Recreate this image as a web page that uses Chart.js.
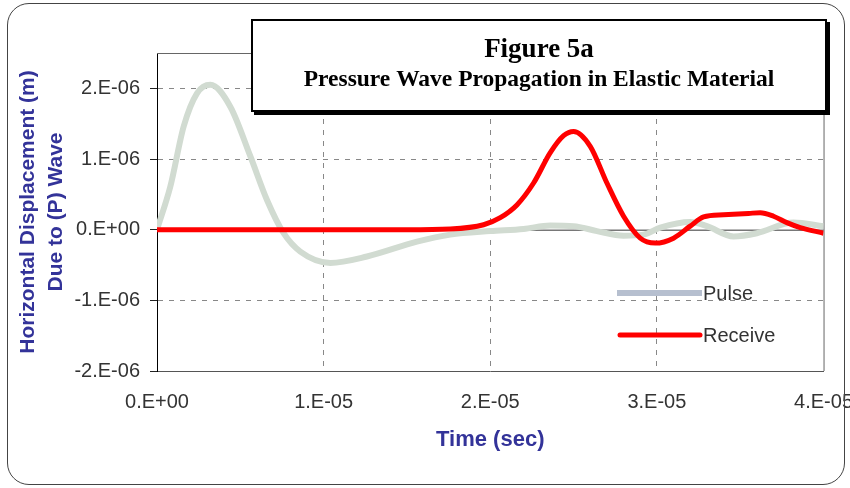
<!DOCTYPE html>
<html>
<head>
<meta charset="utf-8">
<script src="https://cdn.jsdelivr.net/npm/chart.js@4.4.0/dist/chart.umd.min.js"></script>
<style>
  html, body { margin: 0; padding: 0; background: #fff; overflow: hidden; }
  #wrap { position: absolute; left: 0; top: 0; width: 864px; height: 488px; }
  #frame { position: absolute; left: 7px; top: 3px; width: 836px; height: 480px;
           border: 1.5px solid #444; border-radius: 22px; pointer-events: none; }
</style>
</head>
<body>
<div id="wrap"><canvas id="line"></canvas></div>
<div id="frame"></div>
<script>
// time in seconds, displacement in metres
var pulseTime = [0, 0.8e-6, 1.6e-6, 2.4e-6, 3.2e-6, 4.4e-6, 5.6e-6, 6.6e-6, 7.6e-6, 8.6e-6, 10.4e-6,
  12.6e-6, 15.6e-6, 17.6e-6, 20e-6, 22e-6, 23.6e-6, 25e-6, 26.4e-6, 28e-6, 29.2e-6, 30.2e-6,
  32e-6, 33e-6, 34.6e-6, 36e-6, 38.2e-6, 40e-6];
var pulseValues = [0, 0.61e-6, 1.46e-6, 1.93e-6, 2.05e-6, 1.74e-6, 1.04e-6, 0.42e-6, -0.05e-6, -0.31e-6, -0.47e-6,
  -0.38e-6, -0.17e-6, -0.07e-6, -0.02e-6, 0.01e-6, 0.06e-6, 0.05e-6, -0.02e-6, -0.085e-6, -0.07e-6, 0.03e-6,
  0.11e-6, 0.05e-6, -0.095e-6, -0.05e-6, 0.1e-6, 0.05e-6];

var receiveTime = [0, 15e-6, 17.6e-6, 19.6e-6, 20.6e-6, 21.6e-6, 22.6e-6, 23.6e-6, 24.4e-6, 25e-6,
  26e-6, 27e-6, 28e-6, 29e-6, 29.9e-6, 31e-6, 32e-6, 32.8e-6, 34e-6, 35.5e-6, 36.2e-6, 37e-6,
  37.8e-6, 38.6e-6, 40e-6];
var receiveValues = [0, 0, 0.01e-6, 0.07e-6, 0.17e-6, 0.35e-6, 0.66e-6, 1.09e-6, 1.33e-6, 1.39e-6,
  1.18e-6, 0.66e-6, 0.19e-6, -0.12e-6, -0.19e-6, -0.12e-6, 0.05e-6, 0.18e-6, 0.21e-6, 0.23e-6, 0.24e-6, 0.19e-6,
  0.1e-6, 0.03e-6, -0.05e-6];

var xTicks = [0, 1e-5, 2e-5, 3e-5, 4e-5];
var xTickLabels = ['0.E+00', '1.E-05', '2.E-05', '3.E-05', '4.E-05'];
var yTicks = [-2e-6, -1e-6, 0, 1e-6, 2e-6];
var yTickLabels = ['-2.E-06', '-1.E-06', '0.E+00', '1.E-06', '2.E-06'];

var seriesNames = ['Pulse', 'Receive'];
var titleLines = ['Figure 5a', 'Pressure Wave Propagation in Elastic Material'];

function toPoints(xs, ys) {
  var pts = [];
  for (var i = 0; i < xs.length; i++) {
    pts.push({x: xs[i], y: ys[i]});
  }
  return pts;
}

// frame, zero line, title box and legend drawn on top
var extras = {
  id: 'extras',
  beforeDatasetsDraw: function(chart) {
    var c = chart.ctx, a = chart.chartArea;
    var y0 = chart.scales.y.getPixelForValue(0);
    c.save();
    c.strokeStyle = '#333';
    c.lineWidth = 1;
    c.beginPath();
    c.moveTo(a.left, y0 + 0.5);
    c.lineTo(a.right, y0 + 0.5);
    c.stroke();
    c.strokeStyle = '#666';
    c.beginPath();
    c.moveTo(a.left, a.top + 0.5);
    c.lineTo(a.right + 0.5, a.top + 0.5);
    c.lineTo(a.right + 0.5, a.bottom);
    c.stroke();
    c.restore();
  },
  afterDatasetsDraw: function(chart) {
    var c = chart.ctx;
    c.save();
    // title box
    c.fillStyle = '#000';
    c.fillRect(254, 22, 576, 93);
    c.fillStyle = '#fff';
    c.fillRect(252, 20, 574, 91);
    c.strokeStyle = '#000';
    c.lineWidth = 2;
    c.strokeRect(252, 20, 574, 91);
    c.fillStyle = '#000';
    c.textAlign = 'center';
    c.textBaseline = 'alphabetic';
    c.font = 'bold 27px "Liberation Serif", "Times New Roman", serif';
    c.fillText(titleLines[0], 539, 57);
    c.font = 'bold 23.5px "Liberation Serif", "Times New Roman", serif';
    c.fillText(titleLines[1], 539, 86);

    // legend
    c.lineCap = 'butt';
    c.strokeStyle = '#b6bfcf';
    c.lineWidth = 6;
    c.beginPath();
    c.moveTo(617, 293);
    c.lineTo(702, 293);
    c.stroke();
    c.strokeStyle = '#ff0000';
    c.lineWidth = 5;
    c.lineCap = 'round';
    c.beginPath();
    c.moveTo(620, 335);
    c.lineTo(700, 335);
    c.stroke();
    c.fillStyle = '#333';
    c.textAlign = 'left';
    c.textBaseline = 'middle';
    c.font = '20px "Liberation Sans", Arial, sans-serif';
    c.fillText(seriesNames[0], 703, 294);
    c.fillText(seriesNames[1], 703, 336);
    c.restore();
  }
};

Chart.defaults.font.family = '"Liberation Sans", Arial, sans-serif';

var chart = new Chart(document.getElementById('line'), {
  type: 'line',
  data: {
    datasets: [{
      label: seriesNames[0],
      data: toPoints(pulseTime, pulseValues),
      borderColor: '#d1dbd1',
      borderWidth: 6,
      pointRadius: 0,
      cubicInterpolationMode: 'monotone',
      order: 1
    }, {
      label: seriesNames[1],
      data: toPoints(receiveTime, receiveValues),
      borderColor: '#ff0000',
      borderWidth: 5,
      pointRadius: 0,
      cubicInterpolationMode: 'monotone',
      order: 0
    }]
  },
  options: {
    responsive: true,
    maintainAspectRatio: false,
    animation: false,
    layout: { padding: { top: 53, left: 0, bottom: 0, right: 0 } },
    plugins: { legend: { display: false }, tooltip: { enabled: false } },
    scales: {
      x: {
        type: 'linear',
        min: 0,
        max: 4e-5,
        afterBuildTicks: function(s) { s.ticks = xTicks.map(function(v) { return {value: v}; }); },
        afterFit: function(s) { s.height = 117; },
        ticks: {
          autoSkip: false,
          maxRotation: 0,
          padding: 11,
          color: '#333',
          font: { size: 20 },
          callback: function(v, i) { return xTickLabels[i]; }
        },
        grid: {
          color: function(ctx) {
            if (!ctx.tick) return '#888';
            return (ctx.tick.value === 0 || ctx.tick.value === 4e-5) ? 'rgba(0,0,0,0)' : '#888';
          },
          tickColor: 'rgba(0,0,0,0)',
          tickLength: 8
        },
        border: { color: '#555', dash: [5, 6] },
        title: {
          display: true,
          text: 'Time (sec)',
          color: '#333399',
          font: { size: 22, weight: 'bold' },
          padding: { top: 0, bottom: 35 }
        }
      },
      y: {
        type: 'linear',
        min: -2e-6,
        max: 2.5e-6,
        afterBuildTicks: function(s) { s.ticks = yTicks.map(function(v) { return {value: v}; }); },
        afterFit: function(s) { s.width = 157; },
        ticks: {
          padding: 10,
          color: '#333',
          font: { size: 20 },
          callback: function(v, i) { return yTickLabels[i]; }
        },
        grid: {
          color: function(ctx) {
            if (!ctx.tick) return '#888';
            return (ctx.tick.value === 0 || ctx.tick.value === -2e-6) ? 'rgba(0,0,0,0)' : '#888';
          },
          tickColor: '#222',
          tickLength: 7,
          tickBorderDash: [1, 0]
        },
        border: { color: '#000', dash: [5, 6] },
        title: {
          display: true,
          text: ['Horizontal Displacement (m)', 'Due to (P) Wave'],
          color: '#333399',
          font: { size: 21, weight: 'bold', lineHeight: 1.3 },
          padding: { top: 15, bottom: 0 }
        }
      }
    }
  },
  plugins: [extras]
});
</script>
</body>
</html>
